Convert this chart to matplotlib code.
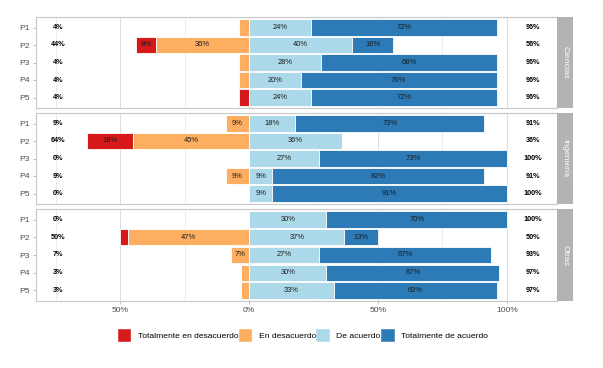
import matplotlib
matplotlib.use("Agg")
import matplotlib.pyplot as plt
from matplotlib.patches import Patch
import numpy as np

plt.rcParams['font.family'] = ['Liberation Sans', 'DejaVu Sans']

groups = ["Ciencias", "Ingeniería", "Otras"]
items = ["P1", "P2", "P3", "P4", "P5"]
levels = ["Totalmente en desacuerdo", "En desacuerdo", "De acuerdo", "Totalmente de acuerdo"]
colors = ["#D7191C", "#FDAE61", "#ABD9E9", "#2C7BB6"]

# percentages per group, per item
td = {"Ciencias": [0, 8, 0, 0, 4],
      "Ingeniería": [0, 18, 0, 0, 0],
      "Otras": [0, 3, 0, 0, 0]}
ed = {"Ciencias": [4, 36, 4, 4, 0],
      "Ingeniería": [9, 45, 0, 9, 0],
      "Otras": [0, 47, 7, 3, 3]}
da = {"Ciencias": [24, 40, 28, 20, 24],
      "Ingeniería": [18, 36, 27, 9, 9],
      "Otras": [30, 37, 27, 30, 33]}
ta = {"Ciencias": [72, 16, 68, 76, 72],
      "Ingeniería": [73, 0, 73, 82, 91],
      "Otras": [70, 13, 67, 67, 63]}
low_lbl = {"Ciencias": [4, 44, 4, 4, 4],
           "Ingeniería": [9, 64, 0, 9, 0],
           "Otras": [0, 50, 7, 3, 3]}
high_lbl = {"Ciencias": [96, 56, 96, 96, 96],
            "Ingeniería": [91, 36, 100, 91, 100],
            "Otras": [100, 50, 93, 97, 97]}

W, H = 603, 368
fig = plt.figure(figsize=(W / 100, H / 100), dpi=100)

panel_px = [(17, 108), (113, 204), (209, 301)]
x0, x1 = 36, 557
strip_w = 16
xlim = (-82.6, 119.4)
border_c = "#C8C8C8"
grid_c = "#E3E3E3"
tick_c = "#4D4D4D"

for gi, g in enumerate(groups):
    top, bot = panel_px[gi]
    ax = fig.add_axes([x0 / W, 1 - bot / H, (x1 - x0) / W, (bot - top) / H])
    ax.set_xlim(*xlim)
    ax.set_ylim(5.6, 0.4)
    for v in [-75, -25, 25, 75]:
        ax.axvline(v, color=grid_c, lw=0.5, zorder=0)
    for v in [-50, 0, 50, 100]:
        ax.axvline(v, color="#DEDEDE", lw=0.8, zorder=0)
    y = np.arange(1, 6)
    e = np.array(ed[g], float)
    t = np.array(td[g], float)
    a = np.array(da[g], float)
    tt = np.array(ta[g], float)
    segs = [(-e - t, t, 0), (-e, e, 1), (np.zeros(5), a, 2), (a, tt, 3)]
    for left, width, ci in segs:
        ax.barh(y, width, left=left, height=0.92, color=colors[ci],
                edgecolor="white", linewidth=0.6, zorder=2)
        for yi, l, w in zip(y, left, width):
            if w >= 5:
                ax.text(l + w / 2, yi, f"{int(w)}%", ha="center", va="center",
                        fontsize=5.4, color="#1a1a1a", zorder=3)
    for yi, lo, hi in zip(y, low_lbl[g], high_lbl[g]):
        ax.text(-74, yi, f"{lo}%", ha="center", va="center", fontsize=5.2,
                fontweight="bold", color="black", zorder=3)
        ax.text(110.2, yi, f"{hi}%", ha="center", va="center", fontsize=5.2,
                fontweight="bold", color="black", zorder=3)
    ax.set_yticks(y)
    ax.set_yticklabels(items)
    ax.tick_params(axis="y", length=2.5, width=0.6, color="#B3B3B3",
                   labelsize=6.1, labelcolor=tick_c, pad=2)
    ax.set_xticks([-50, 0, 50, 100])
    if gi == 2:
        ax.set_xticklabels(["50%", "0%", "50%", "100%"])
        ax.tick_params(axis="x", length=2.5, width=0.6, color="#B3B3B3",
                       labelsize=6.1, labelcolor=tick_c, pad=2)
    else:
        ax.tick_params(axis="x", length=0, labelbottom=False)
    for s in ax.spines.values():
        s.set_color(border_c)
        s.set_linewidth(0.8)
    # strip
    sax = fig.add_axes([x1 / W, 1 - bot / H, strip_w / W, (bot - top) / H])
    sax.set_facecolor("#B3B3B3")
    sax.set_xticks([]); sax.set_yticks([])
    for s in sax.spines.values():
        s.set_visible(False)
    sax.text(0.5, 0.5, g, rotation=270, ha="center", va="center",
             color="white", fontsize=6.1, transform=sax.transAxes)

handles = [Patch(facecolor=c, edgecolor="white", linewidth=0.3) for c in colors]
fig.legend(handles, levels, loc="center", bbox_to_anchor=(302.8 / W, 1 - 335.5 / H),
           ncol=4, frameon=False, fontsize=6.1, handlelength=1.6, handleheight=1.9,
           handletextpad=0.75, columnspacing=0.05, borderpad=0)

fig.savefig("out.png", dpi=100)
